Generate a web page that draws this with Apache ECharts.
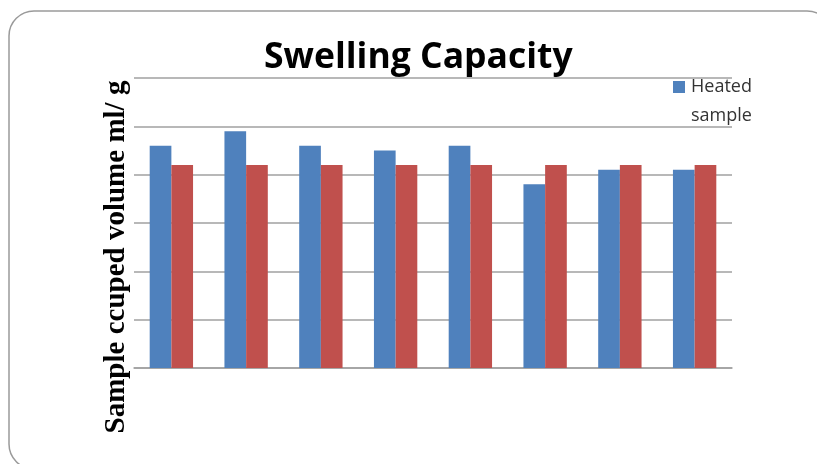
<!DOCTYPE html>
<html>
<head>
<meta charset="utf-8">
<script src="https://cdn.jsdelivr.net/npm/echarts@6/dist/echarts.min.js"></script>
<style>
html,body{margin:0;padding:0;background:#fff;}
#c{width:817px;height:464px;}
</style>
</head>
<body>
<div id="c"></div>
<script>
const categories = ['1', '2', '3', '4', '5', '6', '7', '8'];
const heated = [4.6, 4.9, 4.6, 4.5, 4.6, 3.8, 4.1, 4.1];
const unheated = [4.2, 4.2, 4.2, 4.2, 4.2, 4.2, 4.2, 4.2];
const titleText = 'Swelling Capacity';
const yAxisTitle = 'Sample ccuped volume ml/ g';
const heatedName = 'Heated\nsample';
const unheatedName = 'Unheated sample';
const heatedColor = '#4F81BD';
const unheatedColor = '#C0504D';

const chart = echarts.init(document.getElementById('c'), null, {renderer: 'canvas'});
chart.setOption({
  animation: false,
  backgroundColor: '#fff',
  title: {
    text: titleText,
    left: 259,
    top: 35,
    textStyle: {fontFamily: 'Open Sans', fontWeight: 'bold', fontSize: 35.5, color: '#000'}
  },
  graphic: [
    {
      type: 'rect',
      shape: {x: 9, y: 11, width: 823, height: 458, r: 25},
      style: {fill: 'none', stroke: '#9a9a9a', lineWidth: 1.5},
      silent: true, z: -1
    },
    {
      type: 'text',
      x: 117, y: 257,
      rotation: Math.PI / 2,
      style: {
        text: yAxisTitle,
        fontFamily: 'Liberation Serif', fontWeight: 'bold', fontSize: 29,
        fill: '#000', align: 'center', verticalAlign: 'middle'
      }
    },
    {
      type: 'rect',
      shape: {x: 673, y: 81, width: 12, height: 12},
      style: {fill: heatedColor}
    },
    {
      type: 'text',
      x: 691, y: 72,
      style: {
        text: heatedName,
        fontFamily: 'Open Sans', fontSize: 18, lineHeight: 29,
        fill: '#333', align: 'left', verticalAlign: 'top'
      }
    }
  ],
  grid: {left: 134, right: 85, top: 78, bottom: 96, containLabel: false},
  xAxis: {
    type: 'category',
    data: categories,
    axisLine: {show: true, lineStyle: {color: '#a0a0a0', width: 1.5}},
    axisTick: {show: false},
    axisLabel: {show: false}
  },
  yAxis: {
    type: 'value',
    min: 0, max: 6, interval: 1,
    axisLine: {show: false},
    axisTick: {show: false},
    axisLabel: {show: false},
    splitLine: {show: true, lineStyle: {color: '#a0a0a0', width: 1.5}}
  },
  series: [
    {
      name: heatedName, type: 'bar', data: heated,
      barGap: '0%', barCategoryGap: '42%',
      itemStyle: {color: heatedColor}
    },
    {
      name: unheatedName, type: 'bar', data: unheated,
      itemStyle: {color: unheatedColor}
    }
  ]
});
</script>
</body>
</html>
